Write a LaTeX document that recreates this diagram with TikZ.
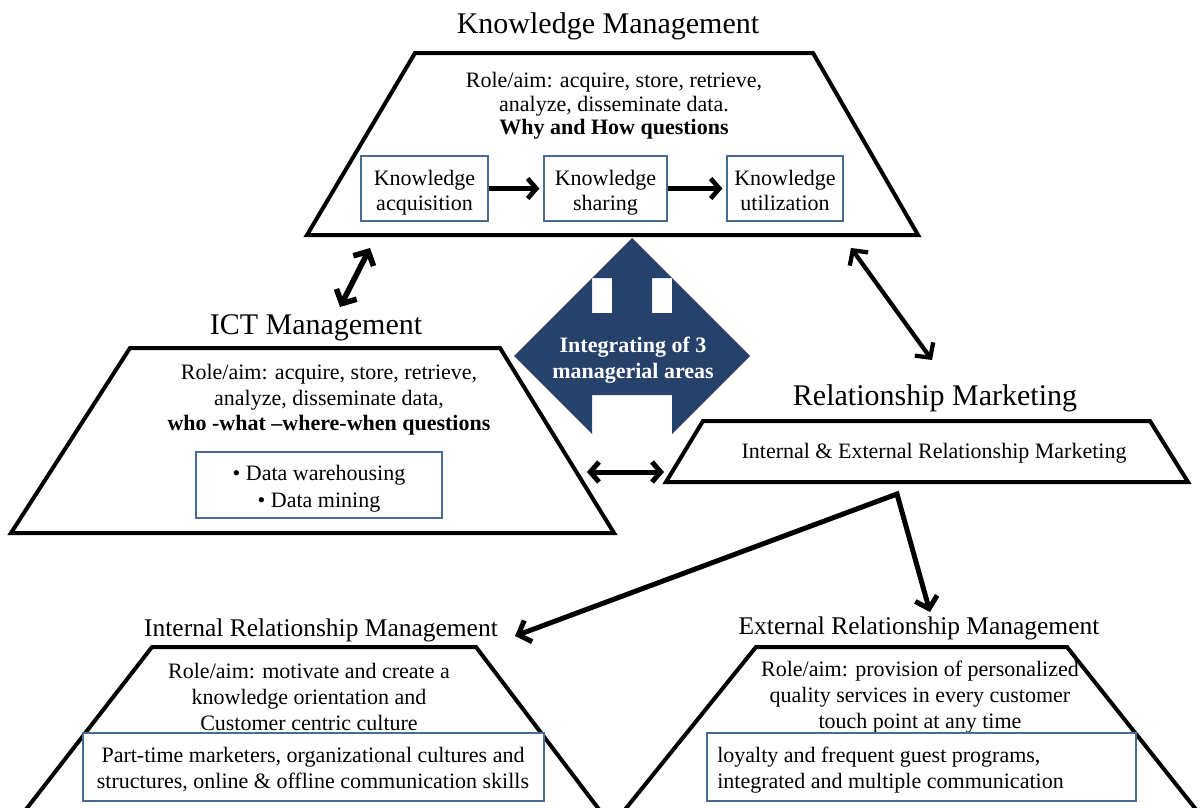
\documentclass[tikz,border=0pt]{standalone}
\usepackage{fontspec}
\setmainfont{Liberation Serif}
\usetikzlibrary{arrows.meta,fit}
\definecolor{navy}{HTML}{26416A}
\definecolor{boxline}{HTML}{4A6B93}
\newcommand\fTitle{\fontsize{22.5pt}{26pt}\selectfont}
\newcommand\fSub{\fontsize{19.1pt}{22pt}\selectfont}
\newcommand\fBody[1]{\fontsize{16.5pt}{#1}\selectfont}
\begin{document}
\begin{tikzpicture}[x=0.75pt,y=-0.75pt,
  trap/.style={draw=black,line width=3pt,line join=miter},
  ttl/.style={font=\fTitle,inner sep=0pt,anchor=base},
  subttl/.style={font=\fSub,inner sep=0pt,anchor=base},
  txt/.style={font={\fBody{19.5pt}},align=center,inner sep=0pt},
  kbox/.style={draw=boxline,line width=0.9pt,inner sep=0pt,fill=white},
  arr/.style={line width=#1,>={Straight Barb[length=6.5pt,width=15pt]}},
  arr/.default=3.5pt,
  bigarr/.style={line width=#1,>={Straight Barb[length=8pt,width=17pt]}}
]
\useasboundingbox (0,0) rectangle (1203,807);

% ---------- Knowledge Management ----------
\node[ttl] (kmt) at (608,33) {Knowledge Management};
\draw[trap] (415,53) -- (813,53) -- (918,235) -- (307,235) -- cycle;
\node[txt,font={\fBody{17.6pt}}] (kmx) at (614,106)
  {Role/aim: acquire, store, retrieve,\\analyze, disseminate data.\\\textbf{Why and How questions}};
\node[kbox,fit={(361,156) (488,221)}] (b1) {};
\node[kbox,fit={(544,156) (667,221)}] (b2) {};
\node[kbox,fit={(727,156) (843,221)}] (b3) {};
\node[txt,font={\fBody{18.75pt}}] (b1x) at (b1.center) [yshift=-3pt] {Knowledge\\acquisition};
\node[txt,font={\fBody{18.75pt}}] (b2x) at (b2.center) [yshift=-3pt] {Knowledge\\sharing};
\node[txt,font={\fBody{18.75pt}}] (b3x) at (b3.center) [yshift=-1.5pt] {Knowledge\\utilization};
\draw[arr,->,shorten >=3pt] (b1.east) -- (b2.west);
\draw[arr,->,shorten >=3pt] (b2.east) -- (b3.west);

% ---------- central shape ----------
\fill[navy] (632,238) -- (672,278) -- (652,278) -- (652,313) -- (672,313) -- (672,278)
  -- (750,356) -- (672,434) -- (672,395) -- (592,395) -- (592,434) -- (514,356)
  -- (592,278) -- (592,313) -- (612,313) -- (612,278) -- (592,278) -- cycle;
\node[txt,text=white,font={\bfseries\fBody{19.5pt}}] (integ) at (633,360)
  {Integrating of 3\\managerial areas};

% ---------- ICT Management ----------
\node[ttl] (ictt) at (316,334) {ICT Management};
\draw[trap] (130,348) -- (500,348) -- (614,533) -- (11,533) -- cycle;
\node[txt,font={\fBody{19.1pt}}] (ictx) at (329,400)
  {Role/aim: acquire, store, retrieve,\\analyze, disseminate data,\\\textbf{who -what –where-when questions}};
\node[kbox,fit={(196,452) (442,518)}] (ictb) {};
\node[txt,font={\fBody{20.25pt}}] (ictbx) at (319,489) {•~Data warehousing\\•~Data mining};

% ---------- Relationship Marketing ----------
\node[ttl] (rmt) at (935,405) {Relationship Marketing};
\draw[trap] (703,421) -- (1150,421) -- (1188,482) -- (666,482) -- cycle;
\node[txt] (rmx) at (934,453) {Internal \& External Relationship Marketing};

% ---------- Internal Relationship Management ----------
\node[subttl] (irmt) at (321,636) {Internal Relationship Management};
\draw[trap] (24,812) -- (152,647) -- (476,647) -- (601,812);
\node[txt] (irmx) at (309,697)
  {Role/aim: motivate and create a\\knowledge orientation and\\Customer centric culture};
\node[kbox,fit={(83,733) (544,801)}] (irmb) {};
\node[txt] (irmbx) at (313,770)
  {Part-time marketers, organizational cultures and\\structures, online \& offline communication skills};

% ---------- External Relationship Management ----------
\node[subttl] (ermt) at (919,634) {External Relationship Management};
\draw[trap] (623,812) -- (756,647) -- (1067,647) -- (1198,812);
\node[txt] (ermx) at (920,697)
  {Role/aim: provision of personalized\\quality services in every customer\\touch point at any time};
\node[kbox,fit={(707,733) (1136,801)}] (ermb) {};
\node[txt,align=left,anchor=west] (ermbx) at (717,770)
  {loyalty and frequent guest programs,\\integrated and multiple communication};

% ---------- connectors ----------
\coordinate (ictA) at (370,248);
\coordinate (ictB) at (340,307);
\draw[bigarr=4.2pt,<->] (ictA) -- (ictB);
\coordinate (rmA) at (851,248);
\coordinate (rmB) at (932,360);
\draw[bigarr=3.2pt,<->] (rmA) -- (rmB);
\coordinate (hA) at (587,472);
\coordinate (hB) at (664,472);
\draw[arr=3.75pt,<->] (hA) -- (hB);
\coordinate (vApex) at (897,494);
\coordinate (vIrm) at (515,636);
\coordinate (vErm) at (930,612);
\draw[bigarr=3.75pt,<->,line join=miter] (vIrm) -- (vApex) -- (vErm);
\end{tikzpicture}
\end{document}
